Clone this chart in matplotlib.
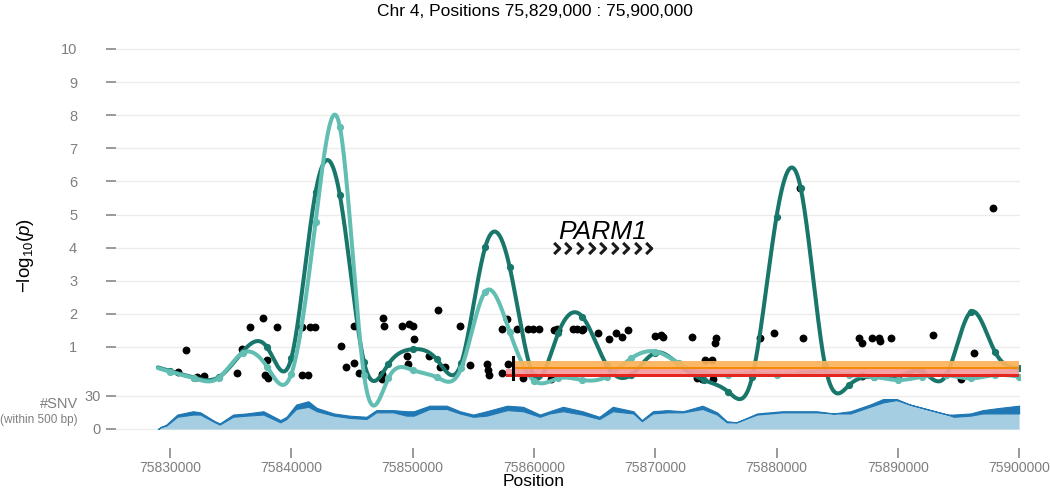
import numpy as np
import matplotlib
matplotlib.use("Agg")
import matplotlib.pyplot as plt
from matplotlib.path import Path

plt.rcParams['font.family'] = ['Liberation Sans', 'DejaVu Sans']
plt.rcParams['mathtext.fontset'] = 'custom'
plt.rcParams['mathtext.rm'] = 'Liberation Sans'
plt.rcParams['mathtext.it'] = 'Liberation Sans:italic'

# === DATA ===
# smoothed association curves, knots every 2 kb
knot_pos = [75829000] + [75830000 + 2000 * k for k in range(36)]
dark_vals = [0.38, 0.27, 0.07, 0.08, 0.86, 0.99, 0.66, 5.67, 5.59, 0.53, 0.48,
             0.93, 0.62, 0.50, 4.03, 3.42, 0.12, 1.41, 1.91, 0.45, 0.15,
             0.82, 0.45, 0.00, -0.35, 0.10, 4.93, 5.79, 0.45, -0.15, 0.10,
             0.10, 0.25, 0.15, 2.05, 0.86, 0.35]
light_vals = [0.36, 0.25, 0.05, 0.06, 0.82, 0.40, 0.18, 4.78, 7.65, 0.14, 0.05,
              0.30, 0.08, 0.35, 2.67, 1.46, -0.02, 0.05, 0.00, 0.10, 0.65,
              0.86, 0.50, 0.20, 0.15, 0.20, 0.15, 0.20, 0.25, 0.15, 0.10,
              0.00, 0.10, 0.15, 0.05, 0.15, 0.10]

# single variant -log10(p)
snp_pos = [75830635, 75831294, 75832251, 75832828, 75835499, 75835960, 75836595,
           75837692, 75838846, 75837972, 75837832, 75838104, 75840857, 75841542,
           75841954, 75840857, 75841352, 75844097, 75844485, 75845194, 75845194,
           75845581, 75847585, 75847618, 75847453, 75847502, 75849101, 75849728,
           75850008, 75850115, 75849563, 75849645, 75851376, 75852069, 75852259,
           75852671, 75853908, 75854732, 75856158, 75856241, 75856323, 75857346,
           75857346, 75857808, 75858583, 75859540, 75859902, 75860446, 75857890,
           75859126, 75861450, 75861657, 75861880, 75862011, 75863248, 75863528,
           75863940, 75864072, 75865309, 75866215, 75866768, 75867238, 75867782,
           75869983, 75870453, 75870667, 75873008, 75875012, 75874930, 75874105,
           75874658, 75873421, 75873833, 75874740, 75878639, 75879818, 75881937,
           75882210, 75886826, 75887023, 75887848, 75888474, 75888532, 75889414,
           75892926, 75896306, 75895210, 75897823, 75887023]
snp_logp = [0.25, 0.91, 0.10, 0.12, 0.22, 0.93, 1.59,
            1.88, 1.59, 0.60, 0.15, 0.05, 1.59, 1.59,
            1.59, 0.15, 0.15, 1.03, 0.40, 0.50, 1.63,
            0.22, 1.86, 1.63, 0.02, 0.17, 1.63, 1.68,
            1.63, 1.23, 0.73, 0.47, 0.73, 2.11, 0.40,
            0.40, 1.63, 0.45, 0.47, 0.30, 0.15, 0.22,
            1.54, 1.85, 1.55, 1.55, 1.55, 1.55, 0.47,
            0.05, 0.02, 1.50, 1.55, 1.50, 1.55, 1.55,
            1.50, 1.55, 1.41, 1.23, 1.41, 1.31, 1.52,
            1.33, 1.35, 1.31, 1.31, 1.28, 1.11, 0.60,
            0.60, 0.05, 0.03, 0.03, 1.26, 1.43, 5.79,
            1.26, 1.26, 1.11, 1.28, 1.28, 1.18, 1.28,
            1.36, 0.83, 0.02, 5.20, 0.12]

# SNV density (within 500 bp)
snv_pos = [75829000, 75829300, 75829700, 75830600, 75831900, 75832500, 75833700,
           75834100, 75835200, 75836300, 75837700, 75839100, 75839600, 75840400,
           75841400, 75842100, 75843500, 75844800, 75846200, 75847000, 75848400,
           75849500, 75850100, 75851400, 75852800, 75853900, 75855000, 75856100,
           75857800, 75859100, 75860500, 75861300, 75862400, 75864000, 75865400,
           75866500, 75868200, 75868900, 75869800, 75871000, 75872300, 75873900,
           75875100, 75875900, 75876700, 75878400, 75880500, 75881900, 75883300,
           75884700, 75886100, 75887700, 75888800, 75889900, 75891000, 75892700,
           75894100, 75894600, 75896000, 75897000, 75898400, 75900000]
snv_high = [0, 2, 4, 13, 16, 15, 7, 5, 13, 14, 16, 8, 11, 22, 25, 19, 14, 12, 11,
            17, 17, 16, 16, 21, 21, 16, 13, 16, 21, 20, 13, 16, 20, 16, 11, 20,
            16, 8, 16, 17, 16, 21, 15, 7, 6, 14, 16, 16, 16, 14, 16, 22, 27, 27,
            22, 17, 13, 13, 14, 17, 19, 21]
snv_low = [0, 2, 3, 11, 13, 13, 6, 4, 11, 12, 13, 6, 9, 18, 20, 16, 12, 10, 9,
           15, 15, 12, 12, 18, 18, 14, 11, 12, 17, 16, 11, 14, 16, 13, 9, 16,
           14, 7, 14, 15, 15, 18, 13, 6, 6, 13, 15, 15, 15, 14, 14, 20, 24, 26,
           22, 17, 13, 11, 12, 14, 14, 14]

gene_name = 'PARM1'
gene_start, gene_end = 75861900, 75869500
region_red = (75857700, 75900000)
region_orange = (75858300, 75900000)

y_ticks = [1, 2, 3, 4, 5, 6, 7, 8, 9, 10]
snv_ticks = [30, 0]

DARK = '#18766a'
LIGHT = '#62beb2'


def natural_spline(x, y, xs):
    x = np.asarray(x, float)
    y = np.asarray(y, float)
    n = len(x)
    h = np.diff(x)
    A = np.zeros((n, n))
    b = np.zeros(n)
    A[0, 0] = A[-1, -1] = 1
    for i in range(1, n - 1):
        A[i, i - 1] = h[i - 1]
        A[i, i] = 2 * (h[i - 1] + h[i])
        A[i, i + 1] = h[i]
        b[i] = 3 * ((y[i + 1] - y[i]) / h[i] - (y[i] - y[i - 1]) / h[i - 1])
    c = np.linalg.solve(A, b)
    bc = (y[1:] - y[:-1]) / h - h * (2 * c[:-1] + c[1:]) / 3
    d = (c[1:] - c[:-1]) / (3 * h)
    idx = np.clip(np.searchsorted(x, xs) - 1, 0, n - 2)
    dx = xs - x[idx]
    return y[idx] + bc[idx] * dx + c[idx] * dx ** 2 + d[idx] * dx ** 3


# SNV counts share the axis below the p-value track
def snv_to_y(c):
    return -1.480 + np.asarray(c, float) * 0.03353


# === PLOT ===
W, H = 1050, 488
fig = plt.figure(figsize=(W / 100, H / 100), dpi=100)
ax = fig.add_axes([116 / W, 1 - 448 / H, (1020 - 116) / W, (448 - 40) / H])

x_left = 75830000 + (116 - 170) * 10000 / 121.3
x_right = 75830000 + (1020 - 170) * 10000 / 121.3
ax.set_xlim(x_left, x_right)
ax.set_ylim((380 - 448) / 33.1, (380 - 40) / 33.1)

for s in ax.spines.values():
    s.set_visible(False)

# SNV density
base = snv_to_y(0)
ax.fill_between(snv_pos, base, snv_to_y(snv_low), color='#a6cee3', lw=0, zorder=1)
ax.fill_between(snv_pos, snv_to_y(snv_low), snv_to_y(snv_high), color='#1f78b4',
                lw=0.8, edgecolor='#1f78b4', zorder=1)

# points
ax.scatter(snp_pos, snp_logp, s=32, color='black', lw=0, zorder=3)

# curves
xs = np.linspace(knot_pos[0], knot_pos[-1], 3000)
for vals, col in [(dark_vals, DARK), (light_vals, LIGHT)]:
    ax.plot(xs, natural_spline(knot_pos, vals, xs), color=col, lw=2.9,
            solid_capstyle='round', zorder=4)
    ax.plot(knot_pos[1:], vals[1:], 'o', color=col, ms=4.2, zorder=4)

# region bands
ax.fill_between(region_orange, 0.40, 0.58, color='#fbb35a', alpha=0.92, lw=0, zorder=5)
ax.fill_between(region_orange, 0.32, 0.40, color='#f58a07', lw=0, zorder=5)
ax.fill_between(region_red, 0.17, 0.32, color='#f69a9a', alpha=0.92, lw=0, zorder=5)
ax.fill_between(region_red, 0.10, 0.17, color='#e3261f', lw=0, zorder=5)
ax.plot([region_orange[0], region_orange[0]], [0.03, 0.69], color='black', lw=2.2,
        zorder=6)

# gene
ax.text((gene_start + gene_end) / 2, 4.47, gene_name, style='italic', fontsize=19,
        ha='center', va='center', zorder=6)
chevron = Path([(-0.6, 1.0), (0.4, 0.0), (-0.6, -1.0)],
               [Path.MOVETO, Path.LINETO, Path.LINETO])
ax.plot(np.linspace(gene_start, gene_end, 9), [3.99] * 9, linestyle='none',
        marker=chevron, ms=8, mfc='none', mec='#1a1a1a', mew=2.2, zorder=6)

# axes styling
ax.set_yticks(y_ticks + list(snv_to_y(snv_ticks)))
ax.set_yticklabels([str(v) for v in y_ticks] + [str(v) for v in snv_ticks])
ax.set_xticks(np.arange(75830000, 75900001, 10000))
ax.ticklabel_format(axis='x', useOffset=False, style='plain')
ax.yaxis.grid(True, color='#ececec', lw=1.0)
ax.set_axisbelow(True)
ax.tick_params(axis='y', length=7, width=1.1, color='#7f7f7f', labelcolor='#7f7f7f',
               labelsize=10.5, pad=21)
ax.tick_params(axis='x', length=7, width=1.1, color='#7f7f7f', labelcolor='#7f7f7f',
               labelsize=10, pad=2)
# SNV tick labels sit right next to their ticks
for t in ax.yaxis.get_major_ticks()[-2:]:
    t.set_pad(4)

fig.text(535 / W, 1 - 12 / H, 'Chr 4, Positions 75,829,000 : 75,900,000',
         ha='center', va='center', fontsize=12.5)
fig.text(534 / W, 1 - 482 / H, 'Position', ha='center', va='center', fontsize=12.5)
fig.text(26 / W, 1 - 255 / H, r'$-\mathrm{log}_{10}(p)$', rotation=90,
         ha='center', va='center', fontsize=13.5)
fig.text(78 / W, 1 - 404 / H, '#SNV', ha='right', va='center', fontsize=10.5,
         color='#7f7f7f')
fig.text(78 / W, 1 - 420 / H, '(within 500 bp)', ha='right', va='center',
         fontsize=8.5, color='#7f7f7f')

fig.savefig('out.png', dpi=100)
